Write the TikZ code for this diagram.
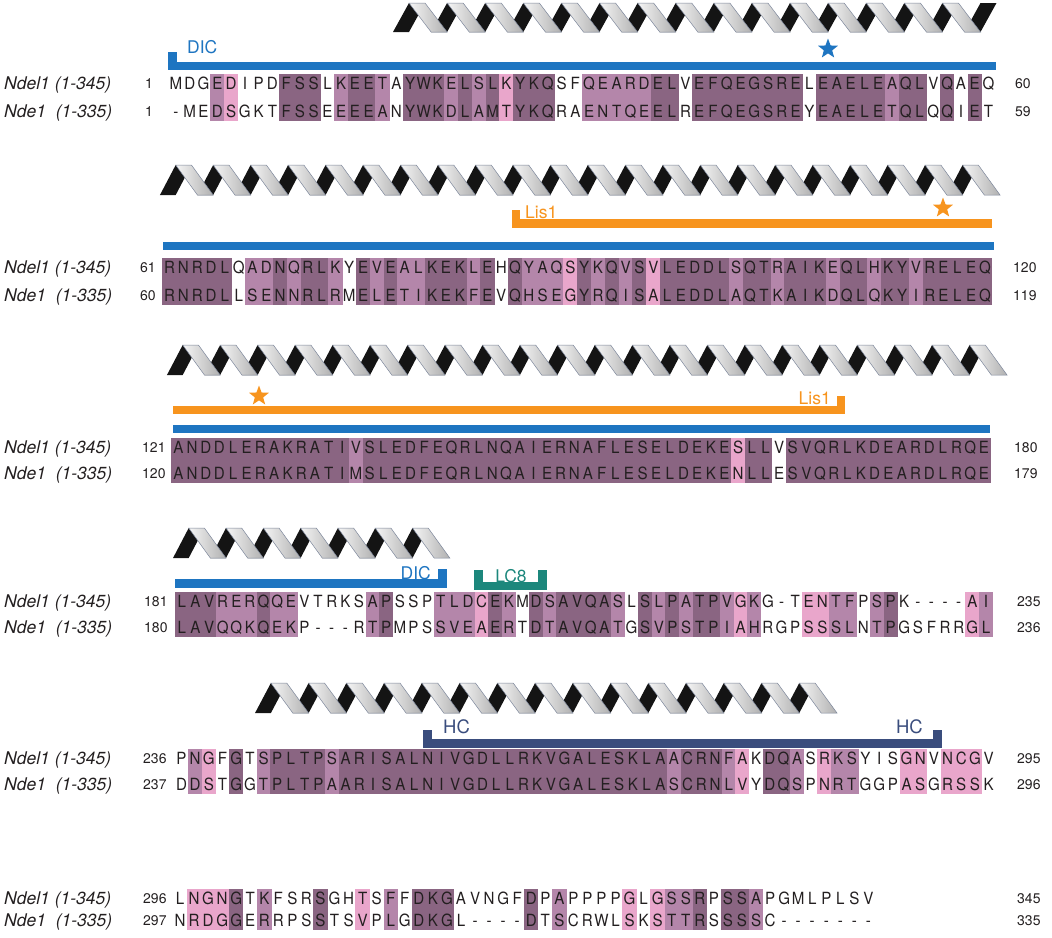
\documentclass[tikz,border=0pt]{standalone}
\usepackage{fontspec}
\setmainfont{TeX Gyre Heros}
\newfontfamily\seqfont[FakeStretch=0.9]{TeX Gyre Heros}
\usetikzlibrary{shapes.geometric}

\definecolor{dicblue}{RGB}{30,117,193}
\definecolor{lisorange}{RGB}{247,148,30}
\definecolor{lcteal}{RGB}{28,135,124}
\definecolor{hcnavy}{RGB}{58,77,125}
\definecolor{shdark}{RGB}{138,101,130}
\definecolor{shmed}{RGB}{180,134,170}
\definecolor{shlight}{RGB}{233,166,203}
\definecolor{ink}{RGB}{35,31,32}
\definecolor{helixedge}{RGB}{125,135,155}

\tikzset{
  seq/.style={anchor=base, inner sep=0pt, text=ink, font=\seqfont\fontsize{16.8}{17}\selectfont},
  sh1/.style={fill=shlight}, sh2/.style={fill=shmed}, sh3/.style={fill=shdark},
  rowlabel/.style={anchor=base west, inner sep=0pt, text=ink, font=\fontsize{17.5}{18}\selectfont\itshape},
  resnum/.style={anchor=base west, inner sep=0pt, text=ink, font=\fontsize{14}{14}\selectfont},
  bindbar/.style={line width=8.5pt, line join=miter},
  tag/.style={inner sep=0pt, font=\fontsize{17.5}{18}\selectfont},
  bigtag/.style={inner sep=0pt, font=\fontsize{18.5}{19}\selectfont},
  helixblack/.style={fill=black!92},
  helixgray/.style={left color=gray!8, right color=gray!62, draw=helixedge, line width=0.5pt},
  site/.style={star, star points=5, star point ratio=2.4, minimum size=21pt, inner sep=0pt}
}

\newcount\ci
\def\rowloop#1{\ifx#1\relax\else
  \node[seq] (\bn r\rn c\the\ci) at ({\rx+\the\ci*\rdx}, {\ry+6.1}) {#1};
  \global\advance\ci by 1
  \expandafter\rowloop\fi}
\def\shloop#1{\ifx#1\relax\else
  \ifnum#1>0 \fill[sh#1] ({\rx+\the\ci*\rdx-\rdx/2-0.2}, \sTop) rectangle ({\rx+\the\ci*\rdx+\rdx/2+0.2}, \sBot);\fi
  \global\advance\ci by 1
  \expandafter\shloop\fi}
% #1 name, #2 x0, #3 dx, #4 y1, #5 y2, #6 shades, #7 seq1, #8 seq2
\newcommand\seqblock[8]{%
  \def\bn{#1}\def\rx{#2}\def\rdx{#3}%
  \pgfmathsetmacro\sTop{#4-9.5}\pgfmathsetmacro\sBot{#5+9.5}%
  \global\ci=0 \shloop#6\relax
  \def\ry{#4}\def\rn{a}\global\ci=0 \rowloop#7\relax
  \def\ry{#5}\def\rn{b}\global\ci=0 \rowloop#8\relax}
% #1 g1, #2 period, #3 n, #4 ytop, #5 ybot, #6 extra black at end (0/1)
\newcommand\helix[6]{%
  \pgfmathtruncatemacro\hn{#3-1+#6}%
  \foreach \k in {0,...,\hn}{%
    \pgfmathsetmacro\hc{#1+\k*#2}%
    \fill[helixblack] ({\hc-0.42*#2}, #5) -- (\hc, #5) -- ({\hc+0.42*#2}, #4) -- (\hc, #4) -- cycle;
  }%
  \pgfmathtruncatemacro\hm{#3-1}%
  \foreach \k in {0,...,\hm}{%
    \pgfmathsetmacro\hc{#1+\k*#2}%
    \path[helixgray] (\hc, #4) -- ({\hc+0.42*#2}, #4) -- ({\hc+#2}, #5) -- ({\hc+0.58*#2}, #5) -- cycle;
  }%
}
\newcommand\rowlabels[2]{%
  \node[rowlabel] at (4, {#1+6.3}) {Ndel1 (1-345)};
  \node[rowlabel] at (4, {#2+6.3}) {Nde1\ \ (1-335)};
}

\begin{document}
\begin{tikzpicture}[x=1pt, y=-1pt]
\useasboundingbox (0,0) rectangle (1052,937);

% ---------------- block 1 ----------------
\helix{409}{38.1}{15}{3}{32}{1}
\draw[bindbar, dicblue] (172.5, 52) -- (172.5, 66) -- (996, 66);
\node[tag, text=dicblue, anchor=base west] (dic1) at (187, 53.3) {DIC};
\node[site, fill=dicblue] (star1) at (828, 49) {};
\seqblock{s1}{176}{13.77}{83}{111}
  {000 21000 333 0 23320 333 23231 333 00 22222 33 0 33333333 0 33333 2 33 0 3 0 3 0}
  {MDGEDIPDFSSLKEETAYWKELSLKYKQSFQEARDELVEFQEGSRELEAELEAQLVQAEQ}
  {-MEDSGKTFSSEEEEANYWKDLAMTYKQRAENTQEELREFQEGSREYEAELETQLQQIET}
\rowlabels{83}{111}
\node[resnum] (l1a) at (145, 88) {1};
\node[resnum] (l1b) at (145, 116) {1};
\node[resnum] (r1a) at (1015, 88) {60};
\node[resnum] (r1b) at (1015, 116) {59};

% ---------------- block 2 ----------------
\helix{175.7}{37.47}{22}{165}{195}{0}
\draw[bindbar, lisorange] (516, 210) -- (516, 223.5) -- (992, 223.5);
\node[tag, text=lisorange, anchor=base west] (lis2) at (525, 218.3) {Lis1};
\node[site, fill=lisorange] (star2) at (943, 208) {};
\draw[bindbar, dicblue] (163, 246) -- (994, 246);
\seqblock{s2}{169.6}{13.82}{267}{295}
  {33333 0 2232332 0 3232233323 0 32221323231 33333 2 33 2 333 2 33 2 33 2 33333}
  {RNRDLQADNQRLKYEVEALKEKLEHQYAQSYKQVSVLEDDLSQTRAIKEQLHKYVRELEQ}
  {RNRDLLSENNRLRMELETIKEKFEVQHSEGYRQISALEDDLAQTKAIKDQLQKYIRELEQ}
\rowlabels{267}{295}
\node[resnum] (l2a) at (140, 272) {61};
\node[resnum] (l2b) at (140, 300) {60};
\node[resnum] (r2a) at (1013, 272) {120};
\node[resnum] (r2b) at (1013, 300) {119};

% ---------------- block 3 ----------------
\helix{182.7}{37.47}{22}{345}{375}{0}
\draw[bindbar, lisorange] (173, 410) -- (841, 410) -- (841, 396);
\node[tag, text=lisorange, anchor=base east] (lis3) at (831, 404.5) {Lis1};
\node[site, fill=lisorange] (star3) at (259, 396) {};
\draw[bindbar, dicblue] (173, 429) -- (990, 429);
\seqblock{s3}{178.5}{13.65}{447}{473}
  {33333 33333 333 2 33333 33333 33333 33333 33333 33 1 33 0 33333 33333 33333}
  {ANDDLERAKRATIVSLEDFEQRLNQAIERNAFLESELDEKESLLVSVQRLKDEARDLRQE}
  {ANDDLERAKRATIMSLEDFEQRLNQAIERNAFLESELDEKENLLESVQRLKDEARDLRQE}
\rowlabels{447}{473}
\node[resnum] (l3a) at (142, 452) {121};
\node[resnum] (l3b) at (142, 478) {120};
\node[resnum] (r3a) at (1014, 452) {180};
\node[resnum] (r3b) at (1014, 478) {179};

% ---------------- block 4 ----------------
\helix{188.7}{37.3}{7}{528}{558}{0}
\draw[bindbar, dicblue] (175, 583.5) -- (442.5, 583.5) -- (442.5, 569);
\node[tag, text=dicblue, anchor=base east] (dic4) at (431, 579.5) {DIC};
\draw[bindbar, lcteal] (478.5, 570) -- (478.5, 586) -- (542.5, 586) -- (542.5, 570);
\node[tag, text=lcteal, anchor=base] (lc8) at (511, 582) {LC8};
\seqblock{s4}{181.8}{13.63}{601}{627}
  {333 222 3 22 00000 2 3 000 222 1 3 2 0 3 2 3333 2 0 3 2 3 2 3 3 2 1 2 000 1 1 2 2 0 2 3 00000 1 2}
  {LAVRERQQEVTRKSAPSSPTLDCEKMDSAVQASLSLPATPVGKG-TENTFPSPK----AI}
  {LAVQQKQEKP---RTPMPSSVEAERTDTAVQATGSVPSTPIAHRGPSSSLNTPGSFRRGL}
\rowlabels{601}{627}
\node[resnum] (l4a) at (144, 606) {181};
\node[resnum] (l4b) at (144, 632) {180};
\node[resnum] (r4a) at (1017, 606) {235};
\node[resnum] (r4b) at (1017, 632) {236};

% ---------------- block 5 ----------------
\helix{270.9}{37.74}{15}{683}{713}{0}
\draw[bindbar, hcnavy] (427.5, 730) -- (427.5, 743.5) -- (937.5, 743.5) -- (937.5, 730);
\node[bigtag, text=hcnavy, anchor=base west] (hc1) at (443, 733.5) {HC};
\node[bigtag, text=hcnavy, anchor=base east] (hc2) at (923, 733.5) {HC};
\seqblock{s5}{181.5}{13.68}{758}{784}
  {0210302 3333 2 33333 33333 33333 33333 3333 2 333 2 1 0 33 2 0 1 2 2 000 1 1 0 111 0}
  {PNGFGTSPLTPSARISALNIVGDLLRKVGALESKLAACRNFAKDQASRKSYISGNVNCGV}
  {DDSTGGTPLTPAARISALNIVGDLLRKVGALESKLASCRNLVYDQSPNRTGGPASGRSSK}
\rowlabels{758}{784}
\node[resnum] (l5a) at (143, 763) {236};
\node[resnum] (l5b) at (143, 789) {237};
\node[resnum] (r5a) at (1017, 763) {295};
\node[resnum] (r5b) at (1017, 789) {296};

% ---------------- block 6 ----------------
\seqblock{s6}{180}{14.05}{898}{920}
  {0 111 3 0 2 000 3 00 1 0 2 0 333 00000 3 0 2 0000 1 0 1 22 3 0 33 2 00000000}
  {LNGNGTKFSRSGHTSFFDKGAVNGFDPAPPPPGLGSSRPSSAPGMLPLSV}
  {NRDGGERRPSSTSVPLGDKGL----DTSCRWLSKSTTRSSSSC-------}
\rowlabels{898}{920}
\node[resnum] (l6a) at (143, 903) {296};
\node[resnum] (l6b) at (143, 925) {297};
\node[resnum] (r6a) at (1017, 903) {345};
\node[resnum] (r6b) at (1017, 925) {335};
\end{tikzpicture}
\end{document}
